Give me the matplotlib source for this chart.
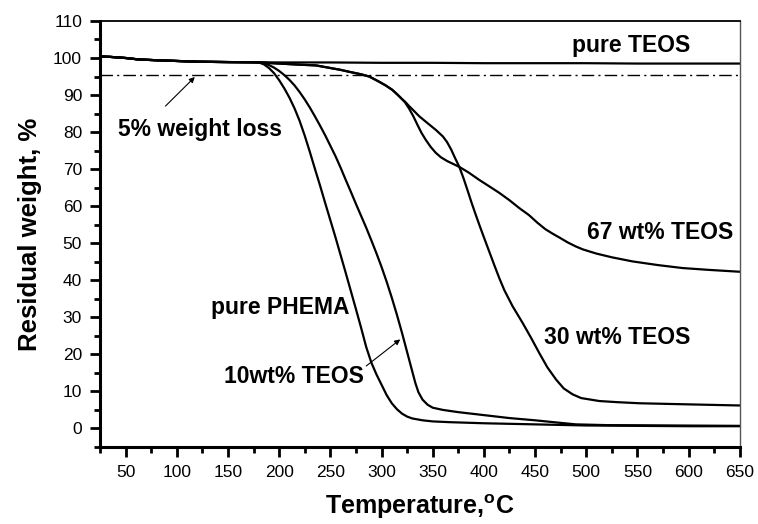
import matplotlib
matplotlib.use("Agg")
import matplotlib.pyplot as plt
from matplotlib.ticker import MultipleLocator

# TGA curves: temperature (°C) vs residual weight (%)
t_start = [25, 35, 50, 63, 80, 100, 120, 150, 175]
w_start = [100.4, 100.3, 100.0, 99.6, 99.4, 99.2, 99.0, 98.9, 98.85]

t_pure_teos = t_start + [200, 250, 300, 350, 400, 450, 500, 550, 600, 650]
w_pure_teos = w_start + [98.8, 98.8, 98.7, 98.7, 98.6, 98.6, 98.6, 98.5, 98.5, 98.5]

t_phema = t_start + [180, 185, 190, 195, 200, 205, 210, 215, 220, 225, 230, 235, 240, 245, 250, 255,
                     260, 265, 270, 275, 280, 285, 290, 295, 300, 305, 310, 315, 320, 325, 330, 340,
                     350, 366, 400, 450, 500, 550, 600, 650]
w_phema = w_start + [98.8, 98.3, 97.3, 95.9, 94.0, 91.8, 89.3, 86.4, 83.0, 79.0, 74.6, 70.0, 65.5, 60.8, 56.2, 51.6,
                     46.8, 42.0, 37.1, 32.2, 27.2, 22.0, 17.8, 14.6, 11.8, 9.0, 6.8, 5.2, 4.0, 3.2, 2.7, 2.2,
                     1.9, 1.7, 1.4, 1.1, 0.8, 0.7, 0.6, 0.6]

t_10teos = t_start + [180, 185, 190, 195, 200, 205, 210, 215, 220, 225, 230, 235, 240, 245, 250, 255,
                      260, 265, 270, 275, 280, 285, 290, 295, 300, 305, 310, 315, 320, 325, 330, 333,
                      336, 340, 345, 350, 360, 375, 400, 425, 450, 475, 490, 520, 650]
w_10teos = w_start + [98.8, 98.6, 98.1, 97.4, 96.5, 95.4, 94.1, 92.6, 90.8, 88.8, 86.6, 84.2, 81.7, 79.1, 76.3, 73.5,
                      70.4, 67.1, 63.9, 60.6, 57.4, 54.2, 50.8, 47.3, 43.6, 39.6, 35.3, 30.7, 25.8, 20.6, 15.4, 12.3,
                      9.8, 7.8, 6.4, 5.6, 5.0, 4.4, 3.6, 2.8, 2.2, 1.5, 1.1, 0.9, 0.7]

# both TEOS hybrids share one curve up to ~320 °C
t_hybrid = t_start + [180, 200, 220, 236, 250, 260, 268, 280, 288, 297.6, 304, 310.5, 316, 320]
w_hybrid = w_start + [98.8, 98.5, 98.2, 98.0, 97.3, 96.8, 96.3, 95.6, 95.0, 93.6, 92.6, 91.4, 90.0, 88.9]

t_30teos = t_hybrid + [323, 327, 331, 336.7, 345, 353, 360, 364, 368, 372, 376, 380, 384, 388, 392, 396,
                       400, 405, 410, 415, 420, 428, 437.8, 446, 454, 462, 470.5, 478, 486.7, 495, 512.8,
                       530, 552, 600, 650]
w_30teos = w_hybrid + [88.2, 87.0, 85.9, 84.3, 82.4, 80.6, 78.8, 77.3, 75.3, 72.9, 70.6, 67.6, 64.3, 60.9, 57.7, 54.6,
                       51.6, 47.9, 44.2, 40.6, 37.3, 33.0, 28.5, 24.5, 20.4, 16.5, 13.2, 10.8, 9.2, 8.2, 7.4,
                       7.1, 6.8, 6.5, 6.2]

t_67teos = t_hybrid + [323, 327, 331, 335, 339, 343.2, 348, 353, 358, 364, 370, 376, 385, 395.4, 405, 415,
                       425, 434.5, 444, 452, 460, 467, 474, 482, 490, 497, 510, 525, 545, 570, 594, 620, 650]
w_67teos = w_hybrid + [88.0, 86.3, 84.3, 82.0, 79.8, 77.9, 76.0, 74.4, 73.2, 72.2, 71.4, 70.6, 69.1, 67.1, 65.4, 63.6,
                       61.6, 59.5, 57.6, 55.6, 53.8, 52.6, 51.5, 50.2, 49.1, 48.3, 47.2, 46.2, 45.1, 44.1, 43.3, 42.8, 42.3]

loss_level = 95.5

font = ['Liberation Sans', 'DejaVu Sans']

fig = plt.figure(figsize=(7.58, 5.24), dpi=100)
ax = fig.add_axes([0.132, 0.147, 0.844, 0.813])

lw = 1.6
for t, w in [(t_pure_teos, w_pure_teos), (t_phema, w_phema), (t_10teos, w_10teos),
             (t_30teos, w_30teos), (t_67teos, w_67teos)]:
    ax.plot(t, w, color='black', lw=lw, solid_joinstyle='round', solid_capstyle='round')

ax.axhline(loss_level, color='black', lw=1.0, linestyle=(0, (9, 3, 1.5, 3)))

ax.set_xlim(25, 650)
ax.set_ylim(-5, 110)
ax.xaxis.set_major_locator(MultipleLocator(50))
ax.xaxis.set_minor_locator(MultipleLocator(25))
ax.yaxis.set_major_locator(MultipleLocator(10))
ax.yaxis.set_minor_locator(MultipleLocator(5))
ax.set_xticks(range(50, 651, 50))

ax.tick_params(which='major', direction='out', length=7, width=2, labelsize=12.5, pad=6)
ax.tick_params(which='minor', direction='out', length=4, width=2)
for lab in ax.get_xticklabels() + ax.get_yticklabels():
    lab.set_family(font)

ax.spines['left'].set_linewidth(2.2)
ax.spines['bottom'].set_linewidth(2.2)
ax.spines['top'].set_linewidth(1.3)
ax.spines['right'].set_linewidth(1.0)
ax.spines['right'].set_color('#555555')

ax.set_xlabel('Temperature,$^{\\mathregular{o}}$C', fontsize=18, fontweight='bold', family=font, labelpad=9)
ax.set_ylabel('Residual weight, %', fontsize=18.5, fontweight='bold', family=font, labelpad=8)

txt = dict(fontsize=16.5, fontweight='bold', family=font, ha='center', va='center')
ax.text(544, 103.5, 'pure TEOS', **txt)
ax.text(123, 80.6, '5% weight loss', **txt)
ax.text(201, 32.6, 'pure PHEMA', **txt)
ax.text(214, 14.1, '10wt% TEOS', **txt)
ax.text(530, 24.6, '30 wt% TEOS', **txt)
ax.text(572, 52.9, '67 wt% TEOS', **txt)

arrow = dict(arrowstyle='-|>', color='black', lw=0.8, mutation_scale=8)
ax.annotate('', xy=(119.5, 95.4), xytext=(87, 86.5), arrowprops=arrow)
ax.annotate('', xy=(320.4, 24.5), xytext=(282.9, 16.4), arrowprops=arrow)

fig.savefig('out.png', dpi=100)
